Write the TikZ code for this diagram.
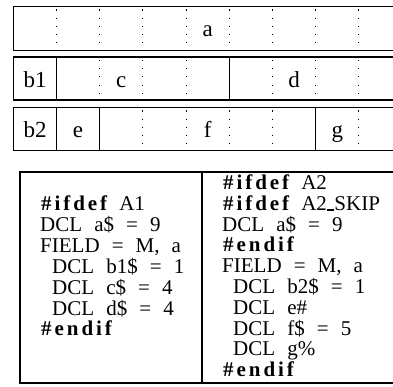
\documentclass[tikz,border=0pt]{standalone}
\usepackage{fontspec}
\setmainfont{Liberation Serif}
\newfontfamily\codefont{Liberation Serif}[WordSpace=2.3]
\newfontfamily\kwfont{Liberation Serif}[LetterSpace=14]
\newcommand\kw[1]{{\kwfont\bfseries #1}}
\newcommand\uscore{\rule[-1pt]{7.5pt}{2.2pt}}
\tikzset{
  rowline/.style={line width=1.2pt},
  dotline/.style={line width=1.1pt, dash pattern=on 1.1pt off 7.1pt, dash phase=-3pt},
  lab/.style={font=\fontsize{23}{23}\selectfont, anchor=base, inner sep=0pt},
  codeline/.style={font=\codefont\fontsize{21}{21}\selectfont, anchor=base west, inner sep=0pt},
  codebox/.style={line width=2.6pt}
}
\begin{document}
\begin{tikzpicture}[x=1pt,y=-1pt]
\useasboundingbox (0,0) rectangle (393,387);
\clip (0,0) rectangle (393,387);
% dotted column lines
\foreach \i in {1,...,8}{
  \draw[dotline] ({13.3+43.2*\i},6.5) -- ({13.3+43.2*\i},50.5);
}
\foreach \i in {2,3,4,6,7,8}{
  \draw[dotline] ({13.3+43.2*\i},57) -- ({13.3+43.2*\i},100);
}
\foreach \i in {3,4,5,6,8}{
  \draw[dotline] ({13.3+43.2*\i},107.5) -- ({13.3+43.2*\i},150.5);
}
% rows
\draw[rowline] (13.3,6.5) rectangle (410,50.5);
\draw[rowline] (13.3,57) rectangle (410,100);
\draw[rowline] (13.3,107.5) rectangle (410,150.5);
% solid dividers
\draw[rowline] (56.5,57) -- (56.5,100);
\draw[rowline] (229.3,57) -- (229.3,100);
\draw[rowline] (56.5,107.5) -- (56.5,150.5);
\draw[rowline] (99.7,107.5) -- (99.7,150.5);
\draw[rowline] (315.7,107.5) -- (315.7,150.5);
% labels
\node[lab] (la) at (207.7,36.5) {a};
\node[lab] (lb1) at (35,87.5) {b1};
\node[lab] (lc) at (121.3,87.5) {c};
\node[lab] (ld) at (294.1,87.5) {d};
\node[lab] (lb2) at (35,138) {b2};
\node[lab] (le) at (78,138) {e};
\node[lab] (lf) at (207.7,138) {f};
\node[lab] (lg) at (337.3,138) {g};
% code boxes
\draw[codebox] (20,172) rectangle (410,383);
\draw[codebox] (202,172) -- (202,383);
% left code
\node[codeline] (l1) at (41,211) {\kw{\#ifdef} A1};
\node[codeline] (l2) at (40,231.8) {DCL a\$ = 9};
\node[codeline] (l3) at (40,252.6) {FIELD = M, a};
\node[codeline] (l4) at (52,273.4) {DCL b1\$ = 1};
\node[codeline] (l5) at (52,294.2) {DCL c\$ = 4};
\node[codeline] (l6) at (52,315) {DCL d\$ = 4};
\node[codeline] (l7) at (41,335.8) {\kw{\#endif}};
% right code
\node[codeline] (r1) at (223,189.5) {\kw{\#ifdef} A2};
\node[codeline] (r2) at (223,210.3) {\kw{\#ifdef} A2\uscore SKIP};
\node[codeline] (r3) at (222,231.1) {DCL a\$ = 9};
\node[codeline] (r4) at (223,251.9) {\kw{\#endif}};
\node[codeline] (r5) at (222,272.7) {FIELD = M, a};
\node[codeline] (r6) at (233,293.5) {DCL b2\$ = 1};
\node[codeline] (r7) at (233,314.3) {DCL e\#};
\node[codeline] (r8) at (233,335.1) {DCL f\$ = 5};
\node[codeline] (r9) at (233,355.9) {DCL g\%};
\node[codeline] (r10) at (223,376.7) {\kw{\#endif}};
\end{tikzpicture}
\end{document}
